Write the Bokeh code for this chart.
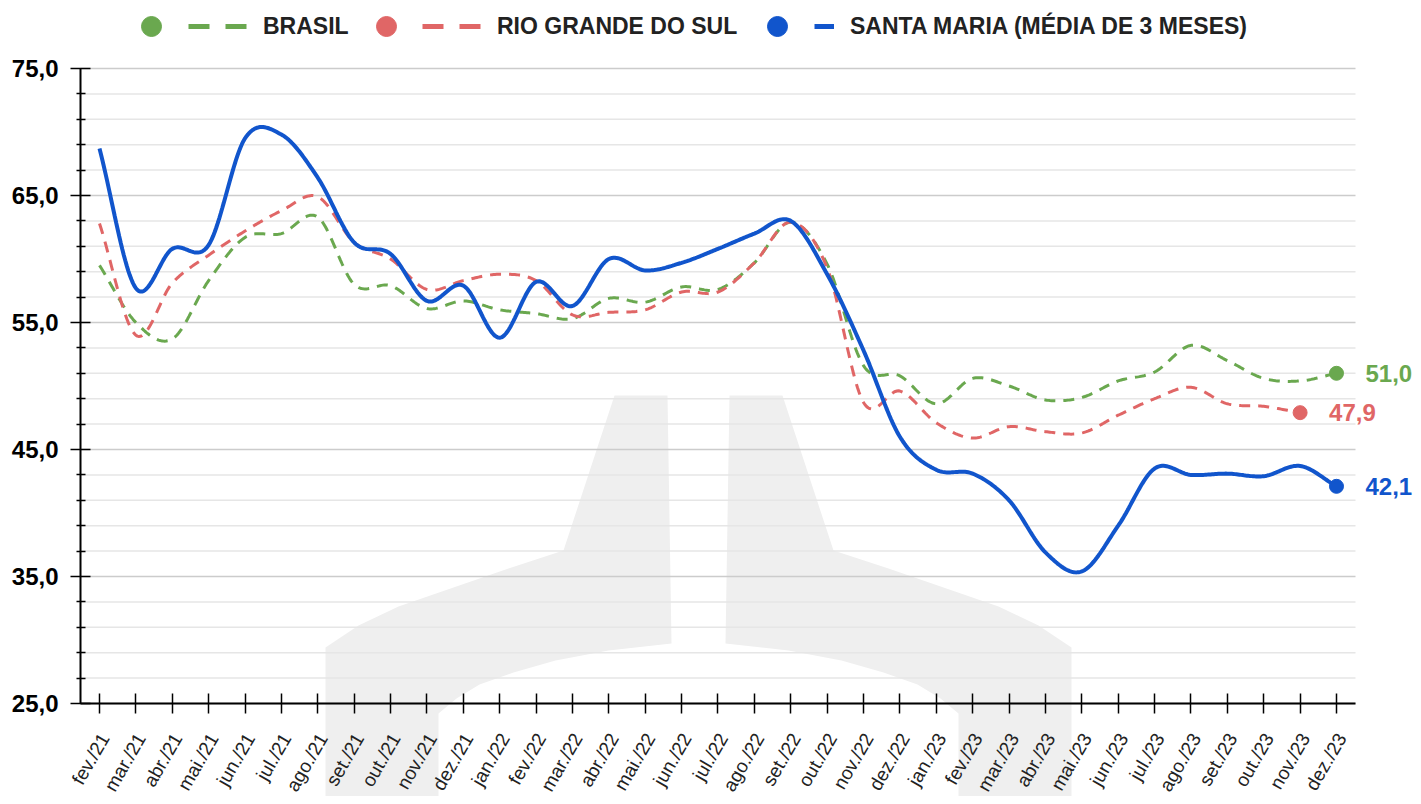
import numpy as np
from bokeh.plotting import figure
from bokeh.models import (Range1d, FixedTicker, Legend, LegendItem, Label,
                          PolyAnnotation, ColumnDataSource)
from bokeh.core.properties import value
from bokeh.embed import file_html
from bokeh.resources import INLINE

# ---------------- data ----------------
months = ["fev./21", "mar./21", "abr./21", "mai./21", "jun./21", "jul./21", "ago./21",
          "set./21", "out./21", "nov./21", "dez./21", "jan./22", "fev./22", "mar./22",
          "abr./22", "mai./22", "jun./22", "jul./22", "ago./22", "set./22", "out./22",
          "nov./22", "dez./22", "jan./23", "fev./23", "mar./23", "abr./23", "mai./23",
          "jun./23", "jul./23", "ago./23", "set./23", "out./23", "nov./23", "dez./23"]

brasil = [59.5, 55.0, 53.7, 58.3, 61.7, 62.0, 63.3, 58.0, 57.9, 56.1, 56.7, 56.0,
          55.7, 55.3, 56.9, 56.6, 57.8, 57.6, 59.7, 62.9, 59.6, 51.6, 50.8, 48.6,
          50.6, 50.0, 48.9, 49.1, 50.4, 51.1, 53.2, 52.0, 50.6, 50.4, 51.0]

rio_grande_do_sul = [62.8, 54.0, 58.1, 60.3, 62.2, 63.8, 64.9, 61.3, 60.0, 57.6, 58.3,
                     58.8, 58.3, 55.6, 55.8, 56.0, 57.4, 57.4, 59.7, 62.9, 59.3, 48.7,
                     49.6, 47.1, 45.9, 46.8, 46.4, 46.3, 47.7, 49.0, 49.9, 48.6, 48.4, 47.9]

santa_maria = [68.7, 57.7, 60.8, 61.1, 69.5, 69.8, 66.4, 61.3, 60.4, 56.7, 57.9, 53.8,
               58.2, 56.3, 60.0, 59.1, 59.7, 60.8, 62.0, 63.0, 58.8, 52.8, 46.0, 43.4,
               43.1, 41.0, 36.9, 35.4, 39.0, 43.5, 43.0, 43.1, 42.9, 43.7, 42.1]

series_names = ["BRASIL", "RIO GRANDE DO SUL", "SANTA MARIA (MÉDIA DE 3 MESES)"]
series_colors = ["#6aa84f", "#e06666", "#1155cc"]

y_ticks = [25, 35, 45, 55, 65, 75]
y_tick_labels = ["25,0", "35,0", "45,0", "55,0", "65,0", "75,0"]
y_minor_ticks = [v for v in range(27, 75, 2) if v not in y_ticks]

FONT = "Liberation Sans"

# ---------------- geometry (pixels); the frame covers the whole canvas ----------------
W, H = 1413, 796
AXIS_X_PX = 80                      # where the y axis sits
AXIS_Y_PX = 703                     # where the x axis (value 25) sits
AXIS_R = 1355                       # right end of x axis / grid
X0_PX, STEP_PX = 99, 36.382         # first month position, px per month
Y_TOP_VAL, Y_TOP_PX, PX_PER_UNIT = 75, 68, 12.7

x_min = -X0_PX / STEP_PX
x_max = (W - X0_PX) / STEP_PX
x_axis_lo = -(X0_PX - AXIS_X_PX) / STEP_PX
x_axis_hi = (AXIS_R - X0_PX) / STEP_PX
y_max = Y_TOP_VAL + Y_TOP_PX / PX_PER_UNIT
y_min = y_ticks[0] - (H - AXIS_Y_PX) / PX_PER_UNIT


def smooth(vals, n=24):
    """Cardinal (Catmull-Rom) curve through the monthly values."""
    p = np.asarray(vals, dtype=float)
    m = np.empty_like(p)
    m[1:-1] = (p[2:] - p[:-2]) / 2.0
    m[0] = p[1] - p[0]
    m[-1] = p[-1] - p[-2]
    xs, ys = [], []
    for i in range(len(p) - 1):
        t = np.linspace(0, 1, n, endpoint=(i == len(p) - 2))
        h00 = 2 * t**3 - 3 * t**2 + 1
        h10 = t**3 - 2 * t**2 + t
        h01 = -2 * t**3 + 3 * t**2
        h11 = t**3 - t**2
        ys.extend(h00 * p[i] + h10 * m[i] + h01 * p[i + 1] + h11 * m[i + 1])
        xs.extend(i + t)
    return xs, ys


p = figure(width=W, height=H,
           x_range=Range1d(x_min, x_max), y_range=Range1d(y_min, y_max),
           output_backend="svg", toolbar_location=None,
           min_border_left=0, min_border_right=0,
           min_border_top=0, min_border_bottom=0)
p.outline_line_color = None
p.background_fill_color = "white"
p.border_fill_color = "white"
p.xgrid.visible = False
p.ygrid.visible = False

# ---------------- decorative watermark (background logo, canvas px) ----------------
wm_left = [(614, 395), (667, 395), (671, 643), (608, 650), (555, 660), (513, 672),
           (479, 684), (456, 698), (438, 713), (438, 800), (325, 800), (325, 647),
           (358, 625), (398, 606), (453, 587), (508, 568), (563, 550)]
wm_center = 698
for pts in (wm_left, [(2 * wm_center - x, y) for x, y in wm_left]):
    p.add_layout(PolyAnnotation(xs=[x for x, _ in pts], ys=[H - y for _, y in pts],
                                xs_units="screen", ys_units="screen",
                                fill_color="#efefef", fill_alpha=1.0,
                                line_color=None, level="image"))

# ---------------- horizontal grid lines (bounded like the axis) ----------------
p.segment(x0=x_axis_lo, x1=x_axis_hi, y0=y_minor_ticks, y1=y_minor_ticks,
          line_color="#e6e6e6", line_width=1.5)
p.segment(x0=x_axis_lo, x1=x_axis_hi, y0=y_ticks, y1=y_ticks,
          line_color="#cccccc", line_width=1.5)

# ---------------- axes ----------------
ticker_y = FixedTicker(ticks=y_ticks, minor_ticks=y_minor_ticks)
p.yaxis.fixed_location = x_axis_lo
p.yaxis.ticker = ticker_y
p.yaxis.bounds = (y_ticks[0], y_ticks[-1])
p.yaxis.major_label_overrides = dict(zip(y_ticks, y_tick_labels))
p.yaxis.major_label_text_font = FONT
p.yaxis.major_label_text_font_style = "bold"
p.yaxis.major_label_text_font_size = "24px"
p.yaxis.major_label_text_color = "black"
p.yaxis.major_label_standoff = 12
p.yaxis.axis_line_color = "black"
p.yaxis.axis_line_width = 2
p.yaxis.major_tick_line_color = "black"
p.yaxis.major_tick_line_width = 1.5
p.yaxis.major_tick_in = 10
p.yaxis.major_tick_out = 10
p.yaxis.minor_tick_line_color = "black"
p.yaxis.minor_tick_line_width = 1.5
p.yaxis.minor_tick_in = 5
p.yaxis.minor_tick_out = 4

month_idx = list(range(len(months)))
p.xaxis.fixed_location = y_ticks[0]
p.xaxis.ticker = FixedTicker(ticks=month_idx)
p.xaxis.bounds = (x_axis_lo, x_axis_hi)
p.xaxis.major_label_text_color = None
p.xaxis.axis_line_color = "black"
p.xaxis.axis_line_width = 2
p.xaxis.major_tick_line_color = "black"
p.xaxis.major_tick_line_width = 1.5
p.xaxis.major_tick_in = 10
p.xaxis.major_tick_out = 10
p.xaxis.minor_tick_line_color = None

# month labels under the axis, rotated 60 degrees (anchored at their top-right corner)
p.text(x=month_idx, y=[y_ticks[0]] * len(months), text=months,
       angle=np.pi / 3, x_offset=-4, y_offset=26,
       text_align="right", text_baseline="top",
       text_font=value(FONT), text_font_size="19px", text_color="#222222")

# ---------------- series ----------------
all_series = [brasil, rio_grande_do_sul, santa_maria]
dashes = ["11 8", "11 8", "solid"]
widths = [3, 3, 4]
for vals, col, dash, w in zip(all_series, series_colors, dashes, widths):
    xs, ys = smooth(vals)
    p.line(xs, ys, line_color=col, line_width=w, line_dash=dash, line_cap="butt")
    last = len(vals) - 1
    p.scatter([last], [vals[last]], size=14, fill_color=col, line_color=col, marker="circle")
    p.add_layout(Label(x=last, y=vals[last], x_offset=29,
                       text=f"{vals[last]:.1f}".replace(".", ","),
                       text_font=FONT, text_font_style="bold", text_font_size="24px",
                       text_color=col, text_align="left", text_baseline="middle"))

# ---------------- legend (top, hand placed; px from canvas bottom-left) ----------------
# legend-only renderers: one row of NaN so nothing shows in the plot area
circle_left = [126, 361, 752]
line_left = [188, 422, 814]
line_glyph_w = [59, 59, 20]
legend_dash = ["21 16", "21 16", "solid"]
LEG_MID = 26                      # legend row centre, canvas px from top
for name, col, dsh, cx, lx, gw in zip(series_names, series_colors, legend_dash,
                                      circle_left, line_left, line_glyph_w):
    src = ColumnDataSource(data=dict(x=[np.nan], y=[np.nan]))
    dc = p.scatter("x", "y", source=src, size=20, fill_color=col, line_color=col,
                   marker="circle")
    dl = p.line("x", "y", source=src, line_color=col, line_width=5, line_dash=dsh,
                line_cap="butt")
    common = dict(orientation="horizontal", padding=0, margin=0, spacing=0,
                  border_line_color=None, background_fill_alpha=0, label_width=0,
                  label_text_font=FONT, label_text_font_style="bold",
                  label_text_font_size="23px", label_text_color="#222222",
                  label_text_baseline="middle")
    p.add_layout(Legend(items=[LegendItem(label="", renderers=[dc])],
                        location=(cx, H - (LEG_MID + 25)),
                        glyph_width=50, glyph_height=50, label_height=0,
                        label_standoff=0, **common))
    p.add_layout(Legend(items=[LegendItem(label=name, renderers=[dl])],
                        location=(lx, H - (LEG_MID + 14)),
                        glyph_width=gw, glyph_height=28, label_height=28,
                        label_standoff=16, **common))

open("out.html", "w").write(file_html(p, INLINE))
